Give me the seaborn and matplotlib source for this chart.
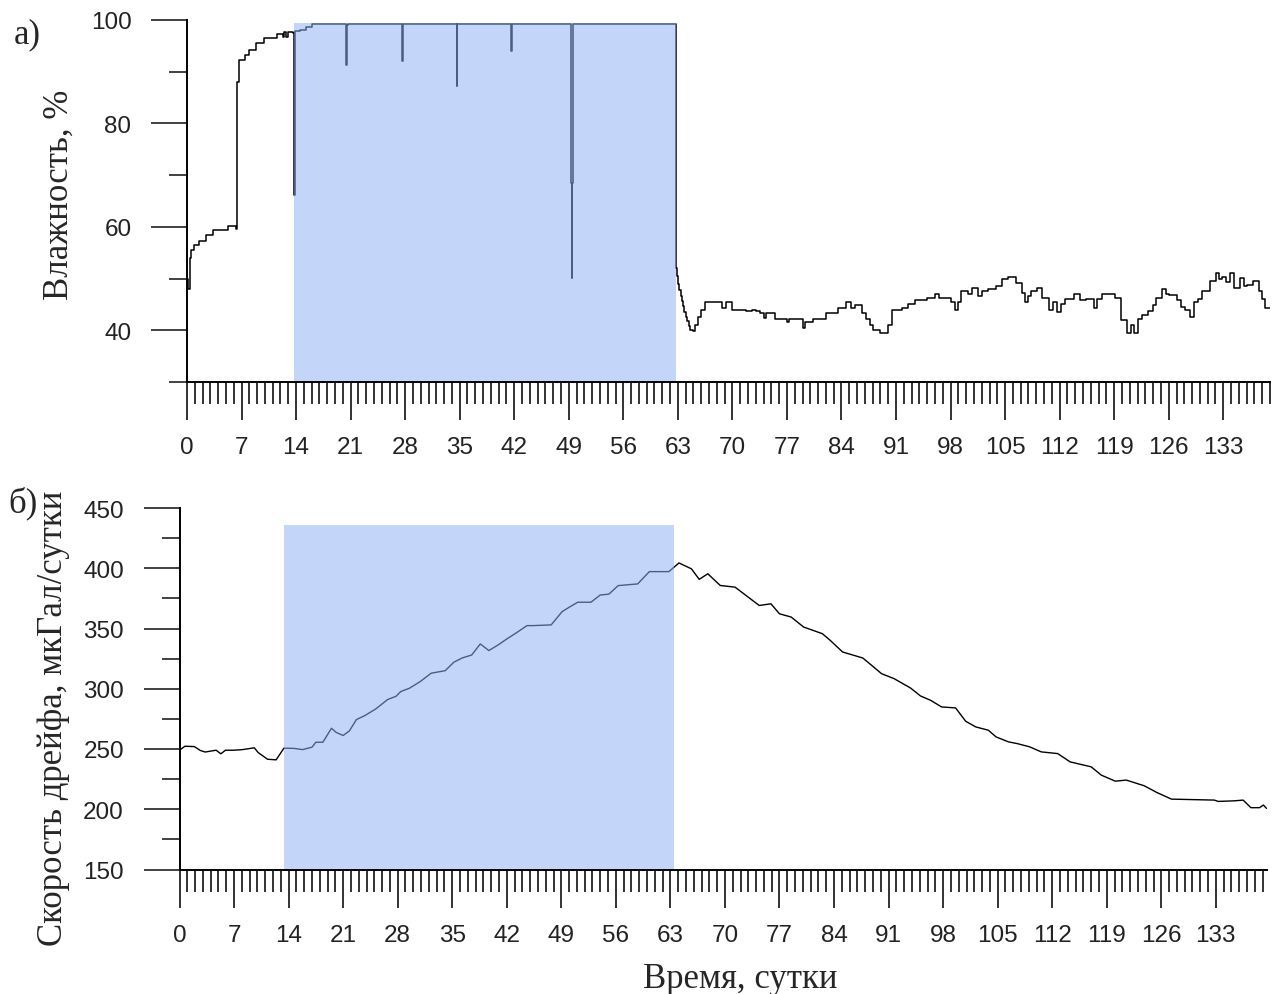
import numpy as np
import pandas as pd
import matplotlib
matplotlib.use("Agg")
import matplotlib.pyplot as plt
from matplotlib.ticker import MultipleLocator, FixedLocator
import seaborn as sns

# ---------------- data ----------------
hum_days = [0.0, 0.15, 0.35, 0.5, 0.9, 1.5, 2.5, 3.4, 5.3, 6.3, 6.45, 6.65, 7.4, 8.0, 8.8, 9.9,
            11.6, 12.3, 12.5, 12.7, 12.9, 13.6, 13.75, 13.8, 14.5, 15.3, 16.0,
            20.4, 20.5, 20.6, 27.6, 27.7, 34.6, 34.7, 41.6, 41.7,
            49.3, 49.4, 49.45, 49.5, 62.7,
            62.75, 62.9, 63.05, 63.2, 63.35, 63.5, 63.65, 63.8, 64.0, 64.2, 64.4, 64.6, 64.9,
            65.2, 65.6, 66.0, 66.5, 68.7, 69.2, 70.0,
            71.8, 72.5, 73.0, 73.5, 74.0, 74.3, 75.5, 77.0, 77.3, 79.0, 79.3, 80.4, 82.0, 83.5,
            84.6, 85.2, 85.8, 86.6, 87.1, 87.6, 88.1, 89.0, 90.0, 90.5, 91.8, 92.6, 93.4, 95.0,
            96.0, 96.5, 97.1, 98.0, 98.6, 99.0, 99.4, 100.2, 100.7, 101.5, 102.0, 102.8, 103.8,
            104.6, 105.4, 106.4, 107.2, 107.5, 108.0, 108.3, 109.1, 109.8, 110.6, 111.2, 111.7,
            112.2, 112.7, 113.8, 114.6, 115.4, 116.4, 116.8, 117.5, 118.8, 119.1, 119.9, 120.7,
            121.1, 121.5, 122.0, 122.6, 123.4, 124.0, 124.4, 125.2, 125.6, 126.0, 127.1, 127.6,
            128.1, 128.7, 129.2, 129.7, 130.3, 131.3, 132.1, 132.5, 132.9, 133.4, 133.9, 134.4,
            135.2, 135.6, 136.0, 136.8, 137.6, 138.0, 138.4, 139.2]
hum_vals = [50.0, 48.0, 54.0, 55.5, 56.5, 57.3, 58.4, 59.3, 60.1, 59.5, 88.0, 92.3, 93.3, 94.2, 95.5, 96.5,
            97.3, 96.8, 97.6, 96.8, 97.6, 97.5, 66.2, 97.8, 98.0, 98.6, 99.3,
            91.3, 99.0, 99.3, 92.1, 99.3, 87.3, 99.3, 94.0, 99.3,
            68.5, 50.1, 68.5, 99.3, 99.3,
            52.0, 50.5, 49.0, 47.8, 46.7, 45.6, 44.6, 43.6, 42.6, 41.8, 40.8, 40.0, 39.8,
            41.0, 42.5, 44.0, 45.5, 44.3, 45.5, 44.0,
            43.7, 44.0, 43.7, 43.3, 42.4, 43.3, 42.2, 41.6, 42.2, 40.5, 41.6, 42.2, 43.3, 44.3,
            45.4, 44.3, 44.8, 43.3, 42.2, 41.0, 40.1, 39.4, 41.0, 44.0, 44.3, 45.0, 45.8, 46.2,
            47.0, 46.2, 46.2, 45.4, 44.0, 45.4, 47.5, 47.0, 48.2, 46.6, 47.5, 47.9, 48.5,
            50.0, 50.4, 49.2, 47.3, 45.4, 46.6, 47.5, 48.2, 46.2, 44.0, 45.4, 43.5,
            45.0, 46.0, 47.0, 45.8, 46.0, 44.3, 46.0, 47.0, 47.0, 46.2, 42.0, 39.4,
            41.0, 39.4, 42.2, 43.0, 43.7, 44.8, 46.2, 47.9, 47.0, 46.8, 45.8, 44.5,
            44.0, 42.5, 45.4, 46.0, 47.5, 49.5, 51.1, 50.0, 50.4, 49.3, 51.0, 48.2,
            50.2, 48.5, 48.8, 49.5, 47.5, 46.0, 44.3, 44.1]

drift_days = [0, 0.7, 1.9, 2.7, 3.3, 4.7, 5.3, 5.9, 7, 8.1, 9.6, 10.1, 11.3, 12.4, 13.4, 14.7, 15.8,
              17, 17.5, 18.4, 19.5, 20.1, 21, 21.8, 22.7, 23.8, 25.2, 26.7, 27.8, 28.4, 29.5, 30.9,
              32.3, 34.1, 35.2, 36.3, 37.5, 38.6, 39.7, 40.9, 42, 43.2, 44.6, 45.4, 47.7, 49.1, 50,
              51.1, 52.8, 54, 55.1, 56.3, 58.8, 60.3, 62.8, 64.1, 65.7, 66.7, 67.8, 69.4, 71.3,
              74.4, 75.9, 77, 78.5, 80.1, 82.5, 83.5, 85.1, 87.7, 90.1, 91.7, 93.8, 95.1, 96.4,
              97.8, 99.6, 100.9, 102.2, 103.8, 104.8, 106.4, 107.5, 109.1, 110.6, 112.7, 114.3,
              117, 118.3, 120.1, 121.5, 123.8, 125.4, 127.3, 132.8, 133.3, 135.4, 136.5, 137.5,
              138.6, 139.1, 139.5]
drift_vals = [249, 252.3, 252, 248.7, 247.5, 249, 246, 249, 249, 249.5, 251, 247, 241.5, 241, 250.7,
              250.5, 249.5, 251.5, 255.6, 255.6, 267.2, 263.8, 261.2, 265, 274.4, 277.8, 283.3,
              291, 293.8, 297.7, 300.4, 306, 312.9, 315, 322, 325.6, 328, 337.2, 331.7, 336.4,
              341.3, 346.3, 352.4, 352.4, 353, 364, 367.6, 371.8, 371.8, 377.8, 378.5, 385.6, 387,
              397.2, 397.2, 404.4, 399.5, 390.8, 395.4, 385.7, 384.3, 369.1, 370.5, 362.2, 359.5,
              351.2, 345.7, 340.2, 330.5, 325.5, 312.5, 308.4, 300.7, 294, 290.4, 284.9, 284.1,
              273, 268.3, 265.6, 260, 255.9, 254.5, 251.8, 247.6, 246.2, 239.3, 235.2, 228.3,
              223.3, 224.2, 219.5, 214, 208.4, 207.6, 206.5, 207, 207.6, 201.3, 201.3, 203.5, 200.7]

# highlighted period (days) and its vertical extent
hum_shade_x = [13.7, 62.75]
hum_shade_y = [30, 99.5]
drift_shade_x = [13.45, 63.5]
drift_shade_y = [150, 436]

x_major = list(range(0, 134, 7))
hum_yticks = [40, 60, 80, 100]
drift_yticks = [150, 200, 250, 300, 350, 400, 450]

ylabel_top = "Влажность, %"
ylabel_bottom = "Скорость дрейфа, мкГал/сутки"
xlabel = "Время, сутки"

# ---------------- style ----------------
sns.set_style("ticks")
plt.rcParams["font.family"] = ["Liberation Sans", "DejaVu Sans"]
serif = ["Liberation Serif", "DejaVu Serif"]

SHADE = "#90b0f7"
SHADE_ALPHA = 0.53

fig = plt.figure(figsize=(12.82, 9.95), dpi=100)
ax1 = fig.add_axes([187 / 1282, 1 - 383 / 995, 1083 / 1282, 362 / 995])
ax2 = fig.add_axes([179.5 / 1282, 1 - 870.5 / 995, 1087 / 1282, 361.5 / 995])

hum_df = pd.DataFrame({"day": hum_days, "val": hum_vals})
drift_df = pd.DataFrame({"day": drift_days, "val": drift_vals})

sns.lineplot(data=hum_df, x="day", y="val", ax=ax1, color="black", lw=1.1,
             estimator=None, sort=False, drawstyle="steps-post", zorder=2)
sns.lineplot(data=drift_df, x="day", y="val", ax=ax2, color="black", lw=1.0,
             estimator=None, sort=False, zorder=2)

ax1.fill_between(hum_shade_x, hum_shade_y[0], hum_shade_y[1], color=SHADE,
                 alpha=SHADE_ALPHA, lw=0, zorder=3)
ax2.fill_between(drift_shade_x, drift_shade_y[0], drift_shade_y[1], color=SHADE,
                 alpha=SHADE_ALPHA, lw=0, zorder=3)

ax1.set_xlim(0, 139)
ax1.set_ylim(30, 100)
ax2.set_xlim(0, 139.5)
ax2.set_ylim(150, 450)

for ax in (ax1, ax2):
    sns.despine(ax=ax)
    for s in ("left", "bottom"):
        ax.spines[s].set_linewidth(1.4)
        ax.spines[s].set_color("black")
        ax.spines[s].set_zorder(4)
    ax.xaxis.set_major_locator(FixedLocator(x_major))
    ax.xaxis.set_minor_locator(MultipleLocator(1))
    ax.tick_params(axis="x", which="major", direction="out", length=27, width=1.3,
                   color="#222222", labelsize=17.5, pad=12, labelcolor="#222222")
    ax.tick_params(axis="x", which="minor", direction="out", length=15.5, width=1.3,
                   color="#222222")
    ax.tick_params(axis="y", which="major", direction="out", length=26, width=1.3,
                   color="#333333", labelsize=17.5, pad=14, labelcolor="#222222")
    ax.tick_params(axis="y", which="minor", direction="out", length=13, width=1.3,
                   color="#333333")
    ax.set_xlabel("")
    ax.grid(False)

ax1.yaxis.set_major_locator(FixedLocator(hum_yticks))
ax1.yaxis.set_minor_locator(FixedLocator([30, 50, 70, 90]))
ax2.yaxis.set_major_locator(FixedLocator(drift_yticks))
ax2.yaxis.set_minor_locator(FixedLocator([175, 225, 275, 325, 375, 425]))

ax1.set_ylabel(ylabel_top, family=serif, fontsize=25)
ax1.yaxis.set_label_coords(-0.103, 0.52)
ax2.set_ylabel(ylabel_bottom, family=serif, fontsize=25)
ax2.yaxis.set_label_coords(-0.101, 0.42)

fig.text(740 / 1282, 1 - 988 / 995, xlabel, family=serif, fontsize=25,
         ha="center", va="baseline")
fig.text(14 / 1282, 1 - 43 / 995, "а)", family=serif, fontsize=25, ha="left", va="baseline")
fig.text(8 / 1282, 1 - 512 / 995, "б)", family=serif, fontsize=25, ha="left", va="baseline")

fig.savefig("out.png", dpi=100)
